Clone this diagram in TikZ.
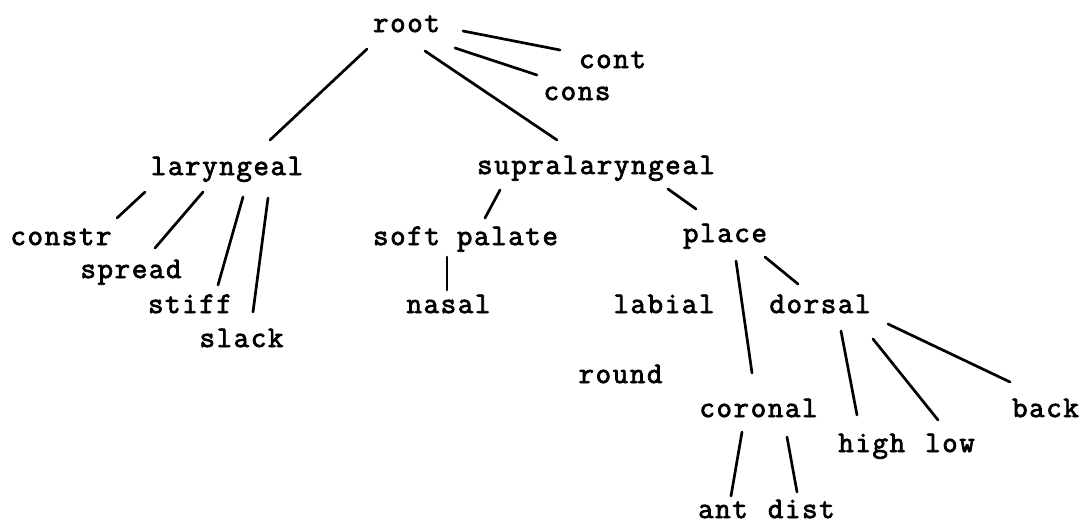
\documentclass[tikz,border=0pt]{standalone}
\usepackage{fontspec}
\newfontfamily\twfont{Latin Modern Mono}[LetterSpace=5.5,FakeBold=2.6]
\begin{document}
\begin{tikzpicture}[x=1pt,y=-1pt,
  lbl/.style={anchor=base,inner sep=0pt,font=\twfont\fontsize{30}{30}\selectfont},
  edge/.style={line width=2.7pt,line cap=round}]
\useasboundingbox (0,0) rectangle (1081,523);
% nodes
\node[lbl] (root) at (406.5,32) {root};
\node[lbl] (cont) at (612.5,68) {cont};
\node[lbl] (cons) at (577,100) {cons};
\node[lbl] (lar) at (227,175) {laryngeal};
\node[lbl] (supra) at (596,174) {supralaryngeal};
\node[lbl] (constr) at (61,245) {constr};
\node[lbl] (spread) at (131,278) {spread};
\node[lbl] (stiff) at (190,313) {stiff};
\node[lbl] (slack) at (241.5,347) {slack};
\node[lbl] (soft) at (465.5,245) {soft palate};
\node[lbl] (nasal) at (448.5,313) {nasal};
\node[lbl] (place) at (725,242) {place};
\node[lbl] (labial) at (664,313) {labial};
\node[lbl] (dorsal) at (820,313) {dorsal};
\node[lbl] (round) at (620.5,383) {round};
\node[lbl] (coronal) at (758.5,417) {coronal};
\node[lbl] (back) at (1045.5,417) {back};
\node[lbl] (high) at (871.7,452) {high};
\node[lbl] (low) at (950,452) {low};
\node[lbl] (ant) at (723,518) {ant};
\node[lbl] (dist) at (801.3,518) {dist};
% connectors
\draw[edge] ([shift={(-39.5,17)}]root.base) -- ([shift={(43,-35)}]lar.base);
\draw[edge] ([shift={(18.5,19)}]root.base) -- ([shift={(-39,-34)}]supra.base);
\draw[edge] ([shift={(48.5,16)}]root.base) -- ([shift={(-40,-25)}]cons.base);
\draw[edge] ([shift={(56.5,-1)}]root.base) -- ([shift={(-52.5,-18)}]cont.base);
\draw[edge] ([shift={(-82,17)}]lar.base) -- ([shift={(56,-27)}]constr.base);
\draw[edge] ([shift={(-24,17)}]lar.base) -- ([shift={(24,-30)}]spread.base);
\draw[edge] ([shift={(16,22)}]lar.base) -- ([shift={(28,-28)}]stiff.base);
\draw[edge] ([shift={(41,23)}]lar.base) -- ([shift={(11.5,-35)}]slack.base);
\draw[edge] ([shift={(-96,16)}]supra.base) -- ([shift={(19.5,-27)}]soft.base);
\draw[edge] ([shift={(72,15)}]supra.base) -- ([shift={(-29,-33)}]place.base);
\draw[edge] ([shift={(-18.5,12)}]soft.base) -- ([shift={(-1.5,-23)}]nasal.base);
\draw[edge] ([shift={(11,19)}]place.base) -- ([shift={(-6.5,-44)}]coronal.base);
\draw[edge] ([shift={(40,15)}]place.base) -- ([shift={(-22,-29)}]dorsal.base);
\draw[edge] ([shift={(21,18)}]dorsal.base) -- ([shift={(-14.7,-37)}]high.base);
\draw[edge] ([shift={(53,26)}]dorsal.base) -- ([shift={(-12,-32)}]low.base);
\draw[edge] ([shift={(68,11)}]dorsal.base) -- ([shift={(-35.5,-35)}]back.base);
\draw[edge] ([shift={(-16.5,15)}]coronal.base) -- ([shift={(8,-22)}]ant.base);
\draw[edge] ([shift={(28.5,20)}]coronal.base) -- ([shift={(-4.3,-26)}]dist.base);
\end{tikzpicture}
\end{document}
